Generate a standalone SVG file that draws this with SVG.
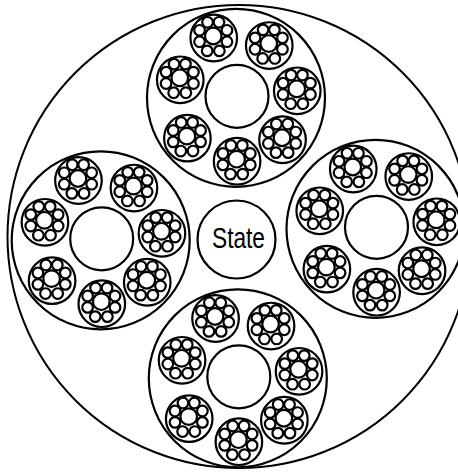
<svg xmlns="http://www.w3.org/2000/svg" xmlns:xlink="http://www.w3.org/1999/xlink" width="458" height="472" viewBox="0 0 458 472">
<style>
circle{fill:none;stroke:#000;stroke-width:2.2}
.bg{fill:#fff;stroke:none}
.label{font-family:"Liberation Sans Narrow","Liberation Sans",Arial,sans-serif;font-size:30px;fill:#000}
</style>
<defs>
<g id="leaf">
<circle r="23.3"/>
<circle cx="-0.5" cy="-2" r="8.3"/>
<circle cx="-6.2" cy="-15.7" r="5.3"/>
<circle cx="5.2" cy="-15.7" r="5.3"/>
<circle cx="13.2" cy="-7.7" r="5.3"/>
<circle cx="13.2" cy="3.7" r="5.3"/>
<circle cx="5.6" cy="12.9" r="5.3"/>
<circle cx="-6.6" cy="12.9" r="5.3"/>
<circle cx="-14.2" cy="3.7" r="5.3"/>
<circle cx="-14.2" cy="-7.7" r="5.3"/>
</g>
<g id="cluster">
<circle cx="-1" cy="1.5" r="89"/>
<circle r="31.5"/>
<use xlink:href="#leaf" href="#leaf" x="-23.25" y="-58.3"/>
<use xlink:href="#leaf" href="#leaf" x="32.25" y="-50.75"/>
<use xlink:href="#leaf" href="#leaf" x="-56.75" y="-16.5"/>
<use xlink:href="#leaf" href="#leaf" x="60.25" y="-5.5"/>
<use xlink:href="#leaf" href="#leaf" x="-49.6" y="41.85"/>
<use xlink:href="#leaf" href="#leaf" x="0.1" y="64.9"/>
<use xlink:href="#leaf" href="#leaf" x="45.55" y="43.45"/>
</g>
</defs>
<rect class="bg" x="0" y="0" width="458" height="472"/>
<g id="root"><circle cx="239" cy="236.5" r="231.5" style="stroke-width:2"/></g>
<g id="connectors"></g>
<g id="group-top" transform="translate(237 96.3)"><use xlink:href="#cluster" href="#cluster"/></g>
<g id="group-left" transform="translate(101.7 238.8)"><use xlink:href="#cluster" href="#cluster"/></g>
<g id="group-right" transform="translate(376.5 227.3)"><use xlink:href="#cluster" href="#cluster"/></g>
<g id="group-bottom" transform="translate(238.8 376.8)"><use xlink:href="#cluster" href="#cluster"/></g>
<g id="state">
<circle cx="236.5" cy="239.5" r="39"/>
<text class="label" x="212" y="247.5" textLength="53" lengthAdjust="spacingAndGlyphs">State</text>
</g>
</svg>
